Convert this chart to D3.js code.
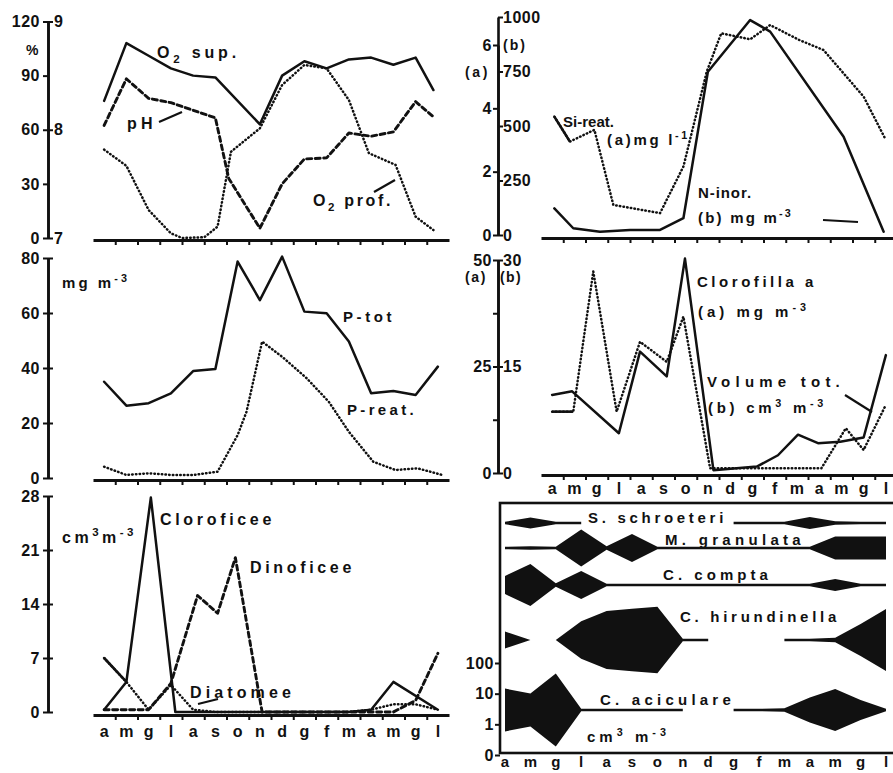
<!DOCTYPE html>
<html>
<head>
<meta charset="utf-8">
<script src="https://cdn.jsdelivr.net/npm/d3@7"></script>
<style>
  body { margin: 0; background: #fff; }
  svg text { font-family: "Liberation Sans", Arial, sans-serif; font-weight: bold; fill: #111; }
  .tk { font-size: 16px; }
  .mo { font-size: 16px; letter-spacing: 0; }
</style>
</head>
<body>
<svg id="chart" width="893" height="773"></svg>
<script>
const months = ["a","m","g","l","a","s","o","n","d","g","f","m","a","m","g","l"];

// panel 1: O2 (% sat.) and pH  -- [month index, value]
const o2Sup = [[0,76],[1,108],[2,101],[3,94],[4,90],[5,89],[7,63],[8,90],[9,98],[10,94],[11,99],[12,100],[13,96],[14,100],[14.8,82]];
const pH = [[0,8.04],[1,8.47],[2,8.29],[3,8.25],[4,8.18],[5,8.11],[5.6,7.55],[7,7.09],[8,7.5],[9,7.73],[10,7.74],[11,7.97],[12,7.94],[13,7.98],[14,8.26],[14.8,8.12]];
const o2Prof = [[0,49],[1,40],[2,15.5],[3,2.6],[3.5,0],[4.5,0.4],[5.1,6.3],[5.7,47.8],[7,60.8],[8,84.8],[9,95.9],[10,94],[11,76.5],[11.9,47],[13.1,40.5],[14,11.8],[14.8,4.4]];

// panel 2: Si (mg/l) and N inorganic (mg/m3)
const siReat = [[0.1,3.74],[0.8,2.95],[1.9,3.32],[2.75,0.95],[4.85,0.69],[5.9,2.16],[6.95,5.16],[7.6,6.37],[8.9,6.18],[9.8,6.63],[11.1,6.16],[12.2,5.84],[14,4.37],[15,3.0]];
const nInor = [[0.1,122],[0.95,31],[2.15,15],[3.5,23],[4.85,23],[5.9,77],[7,749],[8.9,986],[9.8,933],[13.1,451],[14.9,15]];

// panel 3: phosphorus (mg/m3)
const pTot = [35,26.3,27.2,30.8,38.9,39.6,78.7,64.7,80.5,60.5,59.9,49.6,30.8,31.6,30.2,40.5];
const pReat = [[0,4.1],[1,1.1],[2,1.7],[3,1.1],[4,1.1],[5.1,2.3],[6,15.6],[6.4,24.1],[7.1,49.6],[8,44.1],[9.1,36.3],[10.1,27.7],[11,16.8],[12.1,5.9],[13.1,2.9],[14.1,3.5],[15.2,1.1]];

// panel 4: chlorophyll a (mg/m3) and total volume (cm3/m3)
const volTot = [[0,11],[0.9,11.5],[3,5.6],[3.95,17.1],[5.15,13.6],[5.97,30.2],[7.25,0.4],[9.2,0.9],[10.15,2.5],[11.05,5.4],[11.95,4.2],[12.95,4.4],[14,5],[15,16.6]];
const chlA = [[0,14.4],[0.95,14.4],[1.85,47.3],[2.9,14.4],[3.95,30.8],[5.15,26.1],[5.9,36.7],[7.1,1.1],[9.2,1.1],[12.1,1.1],[13.2,10.5],[14,5.4],[15,16]];

// panel 5: algal groups (cm3/m3)
const cloroficee = [[0,0.3],[1,3.9],[2.1,27.8],[3.2,0],[4,0],[5,0],[6,0],[7,0],[8,0],[9,0],[10,0],[11,0],[12,0.3],[13,3.9],[15,0.3]];
const dinoficee = [[0,0.3],[1,0.3],[2,0.3],[3,3.7],[4.2,15.1],[5.1,12.8],[5.9,20],[7.1,0],[13,0],[14,1.5],[15,7.6]];
const diatomee = [[0,7],[1,3.9],[2,0.3],[3,3.5],[4,0.3],[5,0],[11,0],[12,0.3],[13,1],[14,1],[15,0.3]];

// panel 6: kite diagram, monthly volumes (cm3/m3), null = absent
const kiteNames = ["S. schroeteri","M. granulata","C. compta","C. hirundinella","C. aciculare"];
const schroeteri = [0.12,0.23,0.12,0.12,null,null,null,null,null,0.12,0.12,0.12,0.25,0.13,0.12,0.12];
const granulata = [0.12,0.13,0.12,1.6,0.13,0.82,0.12,0.12,0.12,0.12,0.12,0.12,0.12,0.56,0.56,0.56];
const compta = [0.39,2.3,0.13,0.82,0.12,0.12,0.12,0.12,0.12,0.12,0.12,0.12,0.12,0.25,0.12,0.12];
const hirundinella = [0.36,0.1,0.1,1.7,7.8,11,15,0.12,0.12,null,null,0.12,0.12,0.14,1.1,10.5];
const aciculare = [2.5,1.2,24,0.12,0.12,0.12,0.12,0.12,null,0.12,0.12,0.13,0.65,2.3,0.45,0.12];
const kiteTicks = [0.1,1,10,100];
const kiteTickLabels = ["0","1","10","100"];

const svg = d3.select("#chart");

const xLeft = d3.scaleLinear().domain([-0.5,15.5]).range([93,449]);
const xRight = d3.scaleLinear().domain([-0.5,15.5]).range([541,897]);
const xKite = d3.scaleLinear().domain([0,15]).range([505,886]);

function styleAxis(g, w) {
  g.attr("font-size", null).attr("font-family", null);
  g.select(".domain").attr("stroke-width", w || 2.6).attr("stroke", "#111");
  g.selectAll(".tick line").attr("stroke-width", 2).attr("stroke", "#111");
  g.selectAll(".tick text").attr("class", "tk").style("letter-spacing", "0.5px");
}

function yAxis(x, scale, ticks, side, fmt, pad) {
  const ax = (side === "left" ? d3.axisLeft(scale) : d3.axisRight(scale))
    .tickValues(ticks).tickSize(5).tickSizeOuter(0).tickPadding(pad);
  ax.tickFormat(fmt || (d => d));
  svg.append("g").attr("transform", `translate(${x},0)`).call(ax).call(styleAxis);
}

function xAxis(scale, y) {
  svg.append("g").attr("transform", `translate(0,${y})`)
    .call(d3.axisBottom(scale).tickValues(d3.range(0.5, 15, 1)).tickSize(5).tickSizeOuter(0).tickFormat(""))
    .call(g => styleAxis(g, 2.8));
}

const styles = {
  solid: {w: 2.5, dash: null},
  dash: {w: 2.9, dash: "5,3.5"},
  dot: {w: 2.5, dash: "0.5,3.2"}
};

function series(data, x, y, kind, leadSolid) {
  const s = styles[kind];
  const line = d3.line().x(d => x(d[0])).y(d => y(d[1]));
  svg.append("path").attr("d", line(data))
    .attr("fill", "none").attr("stroke", "#111")
    .attr("stroke-width", s.w).attr("stroke-linecap", "round").attr("stroke-linejoin", "round")
    .attr("stroke-dasharray", s.dash);
  if (leadSolid) {
    svg.append("path").attr("d", line(data.slice(0, 2)))
      .attr("fill", "none").attr("stroke", "#111").attr("stroke-width", 2.6);
  }
}

function label(x0, x1, cy, parts, size) {
  const t = svg.append("text").attr("x", x0).attr("y", cy + size * 0.36).attr("font-size", size);
  let off = 0, n = 0;
  parts.forEach(p => {
    const [s, k] = typeof p === "string" ? [p, ""] : p;
    const target = k === "sub" ? size * 0.3 : k === "sup" ? -size * 0.42 : 0;
    t.append("tspan").attr("dy", target - off).attr("font-size", k ? size * 0.72 : size).text(s);
    off = target; n += s.length;
  });
  const natural = t.node().getComputedTextLength();
  const ls = Math.max(-0.5, Math.min(8, (x1 - x0 - natural) / n));
  t.style("letter-spacing", ls + "px");
}

function pointer(x1, y1, x2, y2) {
  svg.append("line").attr("x1", x1).attr("y1", y1).attr("x2", x2).attr("y2", y2)
    .attr("stroke", "#111").attr("stroke-width", 2.2);
}

// ---------- panel 1 ----------
const yPct = d3.scaleLinear().domain([0,120]).range([238,21.5]);
const yPH = d3.scaleLinear().domain([7,9]).range([238,21.5]);
yAxis(48, yPct, [0,30,60,90,120], "left", null, 3);
yAxis(48, yPH, [7,8,9], "right", null, 1);
xAxis(xLeft, 240);
series(o2Sup, xLeft, yPct, "solid");
series(pH, xLeft, yPH, "dash");
series(o2Prof, xLeft, yPct, "dot");
label(26, 37, 50, ["%"], 14);
label(157, 240, 52, ["O", ["2","sub"], " sup."], 16);
label(127, 157, 123, ["pH"], 16);
pointer(159, 122, 182, 112);
label(313, 393, 200, ["O", ["2","sub"], " prof."], 16);
pointer(374, 192, 395, 180);

// ---------- panel 2 ----------
const ySi = d3.scaleLinear().domain([0,6]).range([235,45]);
const yN = d3.scaleLinear().domain([0,1000]).range([235,17]);
yAxis(498, ySi, [0,2,4,6], "left", null, 1);
yAxis(498, yN, [0,250,500,750,1000], "right", null, 0);
xAxis(xRight, 238);
series(siReat, xRight, ySi, "dot", true);
series(nInor, xRight, yN, "solid");
label(503, 527, 45, ["(b)"], 14);
label(465, 490, 72, ["(a)"], 14);
label(563, 614, 122, ["Si-reat."], 15);
label(607, 690, 140, ["(a)mg l", ["-1","sup"]], 15);
label(698, 752, 193, ["N-inor."], 15);
label(698, 793, 218, ["(b) mg m", ["-3","sup"]], 15);
pointer(823, 220, 858, 222);

// ---------- panel 3 ----------
const yP = d3.scaleLinear().domain([0,80]).range([478,258]);
yAxis(48, yP, [0,20,40,60,80], "left", null, 3);
yAxis(48, yP, [0,20,40,60,80], "right", () => "", 0);
xAxis(xLeft, 480);
series(pTot.map((v, i) => [i, v]), xLeft, yP, "solid");
series(pReat, xLeft, yP, "dot");
label(62, 130, 283, ["mg m", ["-3","sup"]], 15);
label(343, 395, 317, ["P-tot"], 15);
label(347, 417, 410, ["P-reat."], 15);

// ---------- panel 4 ----------
const yChl = d3.scaleLinear().domain([0,50]).range([473,260]);
const yVol = d3.scaleLinear().domain([0,30]).range([473,260]);
yAxis(498, yChl, [0,12.5,25,37.5,50], "left", d => (d % 25 === 0 ? d : ""), 1);
yAxis(498, yVol, [0,15,30], "right", null, 0);
xAxis(xRight, 475);
series(chlA, xRight, yChl, "dot", true);
series(volTot, xRight, yVol, "solid");
label(465, 487, 277, ["(a)"], 14);
label(500, 522, 277, ["(b)"], 14);
label(697, 817, 282, ["Clorofilla a"], 15);
label(698, 810, 312, ["(a) mg m", ["-3","sup"]], 15);
label(707, 845, 382, ["Volume tot."], 15);
label(708, 827, 408, ["(b) cm", ["3","sup"], " m", ["-3","sup"]], 15);
pointer(845, 395, 872, 412);
svg.append("g").selectAll("text").data(months).join("text")
  .attr("class", "mo").attr("x", (d, i) => xRight(i)).attr("y", 494)
  .attr("text-anchor", "middle").text(d => d);

// ---------- panel 5 ----------
const yAlg = d3.scaleLinear().domain([0,28]).range([712,496]);
yAxis(48, yAlg, [0,7,14,21,28], "left", null, 3);
yAxis(48, yAlg, [0,7,14,21,28], "right", () => "", 0);
xAxis(xLeft, 715);
series(cloroficee, xLeft, yAlg, "solid");
series(dinoficee, xLeft, yAlg, "dash");
series(diatomee, xLeft, yAlg, "dot", true);
label(62, 137, 537, ["cm", ["3","sup"], "m", ["-3","sup"]], 16);
label(160, 275, 519, ["Cloroficee"], 16);
label(250, 355, 567, ["Dinoficee"], 16);
label(190, 295, 692, ["Diatomee"], 16);
pointer(198, 704, 218, 699);
svg.append("g").selectAll("text").data(months).join("text")
  .attr("class", "mo").attr("x", (d, i) => xLeft(i)).attr("y", 737)
  .attr("text-anchor", "middle").text(d => d);

// ---------- panel 6: kites ----------
const kiteW = d3.scaleLog().domain([0.1,100]).range([0,92]).clamp(true);
const kiteData = [schroeteri, granulata, compta, hirundinella, aciculare];
const kiteCentre = [523, 548, 585, 640, 710];
kiteData.forEach((vals, k) => {
  const c = kiteCentre[k];
  const area = d3.area().defined(d => d !== null)
    .x((d, i) => xKite(i)).y0(d => c - kiteW(d) / 2).y1(d => c + kiteW(d) / 2);
  svg.append("path").attr("d", area(vals)).attr("fill", "#111");
});
svg.append("rect").attr("x", 500).attr("y", 503).attr("width", 420).attr("height", 250)
  .attr("fill", "none").attr("stroke", "#111").attr("stroke-width", 2.6);
svg.append("g").attr("transform", "translate(500,0)")
  .call(d3.axisLeft(d3.scaleLinear().domain([0,1]).range([755,663]))
    .tickValues(kiteTicks.map(v => kiteW(v) / 92)).tickSize(5).tickSizeOuter(0).tickPadding(1)
    .tickFormat((d, i) => kiteTickLabels[i]))
  .call(g => { styleAxis(g); g.select(".domain").remove(); });
label(588, 727, 518, ["S. schroeteri"], 15);
label(665, 805, 540, ["M. granulata"], 15);
label(663, 772, 575, ["C. compta"], 15);
label(680, 840, 617, ["C. hirundinella"], 15);
label(600, 735, 700, ["C. aciculare"], 15);
label(587, 670, 737, ["cm", ["3","sup"], " m", ["-3","sup"]], 15);
svg.append("g").selectAll("text").data(months).join("text")
  .attr("class", "mo").attr("x", (d, i) => xKite(i)).attr("y", 767)
  .style("font-size", "15px")
  .attr("text-anchor", "middle").text(d => d);
</script>
</body>
</html>
